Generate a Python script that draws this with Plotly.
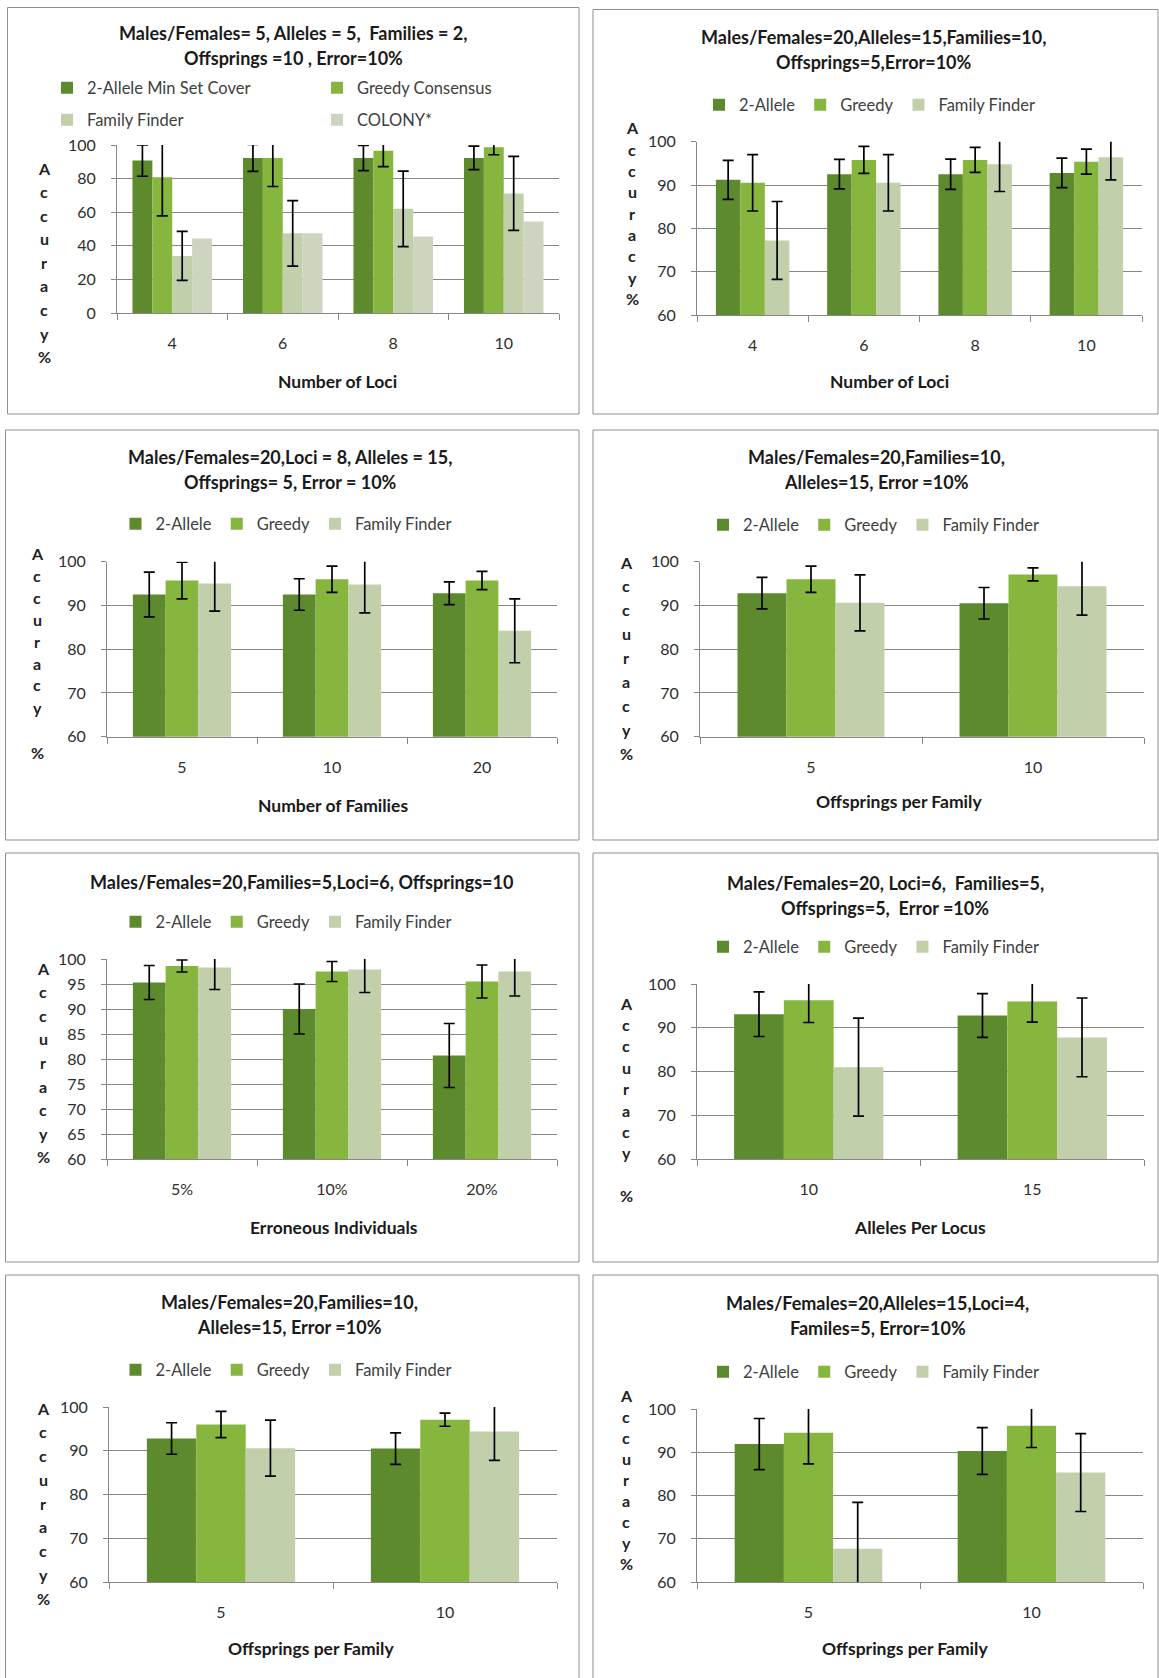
import plotly.graph_objects as go

W, H = 1159, 1678

# ---------------- data ----------------
names_p1 = ["2-Allele Min Set Cover", "Greedy Consensus", "Family Finder", "COLONY*"]
names = ["2-Allele", "Greedy", "Family Finder"]

# Panel 1: Number of Loci
p1_cats = ["4", "6", "8", "10"]
p1_two_allele = [90.7, 92.3, 92.3, 92.3]
p1_two_allele_err = [9.3, 8.0, 7.5, 7.0]
p1_greedy = [80.8, 92.3, 96.6, 98.6]
p1_greedy_err = [23.0, 17.0, 9.5, 4.4]
p1_family_finder = [34.0, 47.4, 62.0, 71.2]
p1_family_finder_err = [14.6, 19.5, 22.5, 22.0]
p1_colony = [44.4, 47.4, 45.6, 54.4]

# Panel 2: Number of Loci
p2_cats = ["4", "6", "8", "10"]
p2_two_allele = [91.2, 92.5, 92.5, 92.8]
p2_two_allele_err = [4.5, 3.4, 3.5, 3.4]
p2_greedy = [90.5, 95.8, 95.8, 95.4]
p2_greedy_err = [6.5, 3.1, 2.9, 2.9]
p2_family_finder = [77.2, 90.5, 94.8, 96.4]
p2_family_finder_err = [9.0, 6.5, 6.3, 5.2]

# Panel 3: Number of Families
p3_cats = ["5", "10", "20"]
p3_two_allele = [92.5, 92.5, 92.8]
p3_two_allele_err = [5.1, 3.6, 2.6]
p3_greedy = [95.7, 96.0, 95.7]
p3_greedy_err = [4.2, 3.0, 2.1]
p3_family_finder = [95.0, 94.8, 84.2]
p3_family_finder_err = [6.3, 6.5, 7.3]

# Panel 4: Offsprings per Family
p4_cats = ["5", "10"]
p4_two_allele = [92.8, 90.5]
p4_two_allele_err = [3.6, 3.6]
p4_greedy = [96.0, 97.1]
p4_greedy_err = [3.0, 1.5]
p4_family_finder = [90.6, 94.4]
p4_family_finder_err = [6.4, 6.6]

# Panel 5: Erroneous Individuals
p5_cats = ["5%", "10%", "20%"]
p5_two_allele = [95.3, 90.0, 80.7]
p5_two_allele_err = [3.4, 5.0, 6.4]
p5_greedy = [98.6, 97.5, 95.5]
p5_greedy_err = [1.2, 2.0, 3.3]
p5_family_finder = [98.3, 97.9, 97.5]
p5_family_finder_err = [4.4, 4.6, 4.9]

# Panel 6: Alleles Per Locus
p6_cats = ["10", "15"]
p6_two_allele = [93.1, 92.8]
p6_two_allele_err = [5.1, 5.0]
p6_greedy = [96.3, 96.0]
p6_greedy_err = [5.1, 4.7]
p6_family_finder = [81.0, 87.8]
p6_family_finder_err = [11.2, 9.0]

# Panel 7: Offsprings per Family
p7_cats = ["5", "10"]
p7_two_allele = [92.8, 90.5]
p7_two_allele_err = [3.6, 3.6]
p7_greedy = [96.0, 97.1]
p7_greedy_err = [3.0, 1.5]
p7_family_finder = [90.6, 94.4]
p7_family_finder_err = [6.4, 6.6]

# Panel 8: Offsprings per Family
p8_cats = ["5", "10"]
p8_two_allele = [91.9, 90.3]
p8_two_allele_err = [5.9, 5.4]
p8_greedy = [94.5, 96.1]
p8_greedy_err = [7.2, 5.0]
p8_family_finder = [67.7, 85.3]
p8_family_finder_err = [10.7, 9.0]

titles = [
    ["Males/Females= 5, Alleles = 5,  Families = 2,", "Offsprings =10 , Error=10%"],
    ["Males/Females=20,Alleles=15,Families=10,", "Offsprings=5,Error=10%"],
    ["Males/Females=20,Loci = 8, Alleles = 15,", "Offsprings= 5, Error = 10%"],
    ["Males/Females=20,Families=10,", "Alleles=15, Error =10%"],
    ["Males/Females=20,Families=5,Loci=6, Offsprings=10"],
    ["Males/Females=20, Loci=6,  Families=5,", "Offsprings=5,  Error =10%"],
    ["Males/Females=20,Families=10,", "Alleles=15, Error =10%"],
    ["Males/Females=20,Alleles=15,Loci=4,", "Familes=5, Error=10%"],
]
x_titles = ["Number of Loci", "Number of Loci", "Number of Families", "Offsprings per Family",
            "Erroneous Individuals", "Alleles Per Locus", "Offsprings per Family", "Offsprings per Family"]
y_title = "Accuracy%"

# ---------------- styling ----------------
COLORS = ["#5c8a2c", "#87b63f", "#c2cfab", "#cdd5c1"]
FONT = "Lato"
GRID = "#878787"
TXT = "#2e2e2e"

def fx(px):
    return px / W

def fy(py):
    return 1 - py / H

panels = [
    dict(cats=p1_cats, vals=[p1_two_allele, p1_greedy, p1_family_finder, p1_colony],
         errs=[p1_two_allele_err, p1_greedy_err, p1_family_finder_err, None], names=names_p1,
         dom=(117, 559, 145, 313), rng=(0, 100), dtick=20, group=0.72,
         box=(7.5, 579, 7.5, 414), tcx=293, tys=[33, 58],
         legends=[(87, 88, 225, [0, 1]), (87, 120, 225, [2, 3])],
         xt=(337, 382), yl=(44, [168 + 23.6 * k for k in range(9)])),
    dict(cats=p2_cats, vals=[p2_two_allele, p2_greedy, p2_family_finder],
         errs=[p2_two_allele_err, p2_greedy_err, p2_family_finder_err], names=names,
         dom=(697, 1142, 141.7, 315), rng=(60, 100), dtick=10, group=0.66,
         box=(593, 1158, 9.5, 414), tcx=874, tys=[37, 62],
         legends=[(739, 105, 0, [0, 1, 2])],
         xt=(889, 382), yl=(632, [128 + 21.3 * k for k in range(9)])),
    dict(cats=p3_cats, vals=[p3_two_allele, p3_greedy, p3_family_finder],
         errs=[p3_two_allele_err, p3_greedy_err, p3_family_finder_err], names=names,
         dom=(107, 557, 561.7, 736.7), rng=(60, 100), dtick=10, group=0.655,
         box=(5.5, 579, 430, 840), tcx=290, tys=[457, 482],
         legends=[(155.5, 524, 0, [0, 1, 2])],
         xt=(333, 805), yl=(37, [553 + 22 * k for k in range(8)] + [753])),
    dict(cats=p4_cats, vals=[p4_two_allele, p4_greedy, p4_family_finder],
         errs=[p4_two_allele_err, p4_greedy_err, p4_family_finder_err], names=names,
         dom=(700, 1144, 561.7, 736.7), rng=(60, 100), dtick=10, group=0.662,
         box=(593, 1158, 430, 840), tcx=876, tys=[457, 482],
         legends=[(743, 525, 0, [0, 1, 2])],
         xt=(899, 802), yl=(626, [562 + 23.9 * k for k in range(9)])),
    dict(cats=p5_cats, vals=[p5_two_allele, p5_greedy, p5_family_finder],
         errs=[p5_two_allele_err, p5_greedy_err, p5_family_finder_err], names=names,
         dom=(107, 557, 959, 1159), rng=(60, 100), dtick=5, group=0.655,
         box=(5.5, 579, 853, 1262), tcx=301, tys=[882],
         legends=[(155.5, 922, 0, [0, 1, 2])],
         xt=(334, 1227), yl=(43, [968 + 23.6 * k for k in range(9)])),
    dict(cats=p6_cats, vals=[p6_two_allele, p6_greedy, p6_family_finder],
         errs=[p6_two_allele_err, p6_greedy_err, p6_family_finder_err], names=names,
         dom=(697, 1144, 984, 1159), rng=(60, 100), dtick=10, group=0.668,
         box=(593, 1158, 853, 1262), tcx=885, tys=[883, 908],
         legends=[(743, 947, 0, [0, 1, 2])],
         xt=(920, 1227), yl=(626, [1003 + 21.4 * k for k in range(8)] + [1195])),
    dict(cats=p7_cats, vals=[p7_two_allele, p7_greedy, p7_family_finder],
         errs=[p7_two_allele_err, p7_greedy_err, p7_family_finder_err], names=names,
         dom=(109, 557, 1407, 1582), rng=(60, 100), dtick=10, group=0.662,
         box=(5.5, 579, 1275, 1700), tcx=289, tys=[1302, 1327],
         legends=[(155.5, 1370, 0, [0, 1, 2])],
         xt=(311, 1648), yl=(43, [1408 + 23.75 * k for k in range(9)])),
    dict(cats=p8_cats, vals=[p8_two_allele, p8_greedy, p8_family_finder],
         errs=[p8_two_allele_err, p8_greedy_err, p8_family_finder_err], names=names,
         dom=(697, 1143, 1409, 1582), rng=(60, 100), dtick=10, group=0.662,
         box=(593, 1158, 1275, 1700), tcx=878, tys=[1303, 1328],
         legends=[(743, 1372, 0, [0, 1, 2])],
         xt=(905, 1648), yl=(626, [1395 + 21 * k for k in range(9)])),
]

fig = go.Figure()
layout = dict(
    width=W, height=H, autosize=False,
    margin=dict(l=0, r=0, t=0, b=0, pad=0, autoexpand=False),
    paper_bgcolor="white", plot_bgcolor="white",
    barmode="overlay", font=dict(family=FONT, color=TXT),
)
annotations = []
shapes = []

legend_idx = 0
for i, p in enumerate(panels, start=1):
    xa = "x" if i == 1 else f"x{i}"
    ya = "y" if i == 1 else f"y{i}"
    xkey = "xaxis" if i == 1 else f"xaxis{i}"
    ykey = "yaxis" if i == 1 else f"yaxis{i}"
    x0, x1, y0, y1 = p["dom"]
    n_series = len(p["vals"])
    bw = p["group"] / n_series

    series_legend = {}
    for (tx, ty, ew, members) in p["legends"]:
        legend_idx += 1
        lid = "legend" if legend_idx == 1 else f"legend{legend_idx}"
        for m in members:
            series_legend[m] = lid
        leg = dict(
            orientation="h", x=fx(tx - 40), xanchor="left", y=fy(ty), yanchor="middle",
            font=dict(family=FONT, size=16.5, color="#404040"),
            bgcolor="rgba(0,0,0,0)", itemclick=False, itemdoubleclick=False, tracegroupgap=0,
        )
        if ew:
            leg["entrywidth"] = ew
            leg["entrywidthmode"] = "pixels"
        layout[lid] = leg

    for s in range(n_series):
        err = p["errs"][s]
        tr = go.Bar(
            x=p["cats"], y=p["vals"][s], name=p["names"][s],
            xaxis=xa, yaxis=ya, legend=series_legend[s],
            marker=dict(color=COLORS[s], line=dict(width=0)),
            width=bw, offset=-p["group"] / 2 + s * bw,
            showlegend=True, hoverinfo="x+y+name",
        )
        if err is not None:
            tr.error_y = dict(type="data", array=err, visible=True, color="black",
                              thickness=1.7, width=5.5)
        fig.add_trace(tr)

    layout[xkey] = dict(
        domain=[fx(x0), fx(x1)], anchor=ya, type="category", automargin=False,
        range=[-0.5, len(p["cats"]) - 0.5],
        showline=True, linecolor=GRID, linewidth=1,
        ticks="outside", tickson="boundaries", ticklen=6, tickcolor=GRID,
        showgrid=False, zeroline=False,
        tickfont=dict(family=FONT, size=16, color=TXT), ticklabelstandoff=16,
        fixedrange=True,
    )
    layout[ykey] = dict(
        domain=[fy(y1), fy(y0)], anchor=xa, range=list(p["rng"]), automargin=False,
        tick0=p["rng"][0], dtick=p["dtick"],
        showgrid=True, gridcolor=GRID, gridwidth=1,
        showline=True, linecolor=GRID, linewidth=1,
        ticks="outside", ticklen=5, tickcolor=GRID, zeroline=False,
        tickfont=dict(family=FONT, size=16, color=TXT), ticklabelstandoff=12,
        fixedrange=True,
    )

    bx0, bx1, by0, by1 = p["box"]
    shapes.append(dict(type="rect", xref="paper", yref="paper",
                       x0=fx(bx0), x1=fx(bx1), y0=fy(by1), y1=fy(by0),
                       line=dict(color="#8f8f8f", width=1), fillcolor="rgba(0,0,0,0)",
                       layer="below"))

    for line, ty in zip(titles[i - 1], p["tys"]):
        annotations.append(dict(text=f"<b>{line}</b>", x=fx(p["tcx"]), y=fy(ty),
                                xref="paper", yref="paper", xanchor="center", yanchor="middle",
                                showarrow=False, font=dict(family=FONT, size=18, color="#1a1a1a")))
    annotations.append(dict(text=f"<b>{x_titles[i - 1]}</b>", x=fx(p["xt"][0]), y=fy(p["xt"][1]),
                            xref="paper", yref="paper", xanchor="center", yanchor="middle",
                            showarrow=False, font=dict(family=FONT, size=17.5, color="#1a1a1a")))
    lx, lys = p["yl"]
    for ch, ly in zip(y_title, lys):
        annotations.append(dict(text=f"<b>{ch}</b>", x=fx(lx), y=fy(ly),
                                xref="paper", yref="paper", xanchor="center", yanchor="middle",
                                showarrow=False, font=dict(family=FONT, size=16, color="#222222")))

layout["annotations"] = annotations
layout["shapes"] = shapes
fig.update_layout(**layout)
fig.write_html("out.html")
